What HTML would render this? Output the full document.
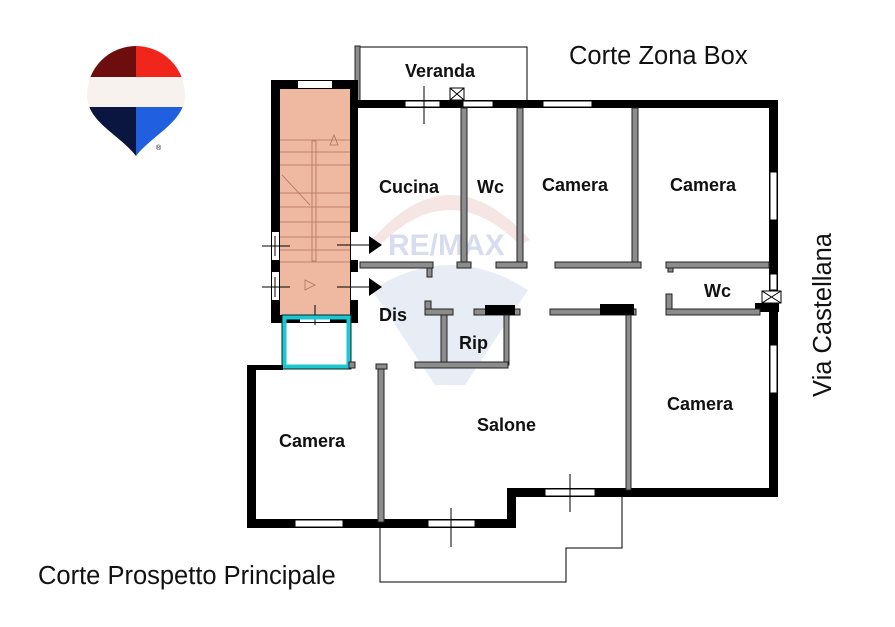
<!DOCTYPE html>
<html><head><meta charset="utf-8"><style>
html,body{margin:0;padding:0;background:#fff;}
svg{display:block;}
text{font-family:"Liberation Sans",Arial,sans-serif;}
.l{font-size:18px;font-weight:bold;fill:#111;}
.g{fill:#8c8c8c;stroke:#222;stroke-width:1;}
.b{fill:#000;}
.w{fill:#fff;stroke:#000;stroke-width:1;}
.t{stroke:#000;stroke-width:1;fill:none;}
</style></head><body>
<svg width="895" height="627" viewBox="0 0 895 627" xmlns="http://www.w3.org/2000/svg">
<rect width="895" height="627" fill="#fff"/>
<defs><clipPath id="bal"><path d="M87,95 A49,49 0 0 1 185,95 C185,122 152,135 136,156 C120,135 87,122 87,95 Z"/></clipPath></defs>
<g clip-path="url(#bal)">
<rect x="80" y="40" width="56" height="40" fill="#6e0d0d"/>
<rect x="136" y="40" width="56" height="40" fill="#f0261c"/>
<rect x="80" y="77" width="112" height="30" fill="#f8f2ee"/>
<rect x="80" y="107" width="56" height="55" fill="#0b1640"/>
<rect x="136" y="107" width="56" height="55" fill="#1f5fe0"/>
</g>
<text x="156" y="150" font-size="7" fill="#000">®</text>
<path d="M372,240 Q450,150 530,240 L520,245 Q450,175 380,245 Z" fill="#f4dede" opacity="0.8"/>
<path d="M372,290 Q450,240 528,290 L465,385 L435,385 Z" fill="#e2e7f2" opacity="0.8"/>
<text x="388" y="255" font-size="30" font-weight="bold" fill="#d3daee" opacity="0.9">RE/MAX</text>
<path d="M357,47 H527 V100" class="t"/>
<rect x="355" y="46" width="5" height="55" class="g"/>
<rect x="271" y="80" width="87" height="243" class="b"/>
<rect x="280" y="89" width="70" height="226" fill="#efb8a0"/>
<rect x="298" y="81" width="34" height="7" fill="#fff"/>
<rect x="300" y="315" width="30" height="7" fill="#fff"/>
<rect x="272" y="232" width="7" height="28" fill="#fff"/><rect x="272" y="272" width="7" height="28" fill="#fff"/>
<rect x="351" y="232" width="7" height="28" fill="#fff"/><rect x="351" y="272" width="7" height="28" fill="#fff"/>
<g stroke="#b07060" stroke-width="0.8" fill="none">
<line x1="280" y1="140" x2="350" y2="140"/><line x1="280" y1="152" x2="350" y2="152"/><line x1="280" y1="165" x2="350" y2="165"/>
<line x1="280" y1="193" x2="350" y2="193"/><line x1="280" y1="207" x2="350" y2="207"/><line x1="280" y1="222" x2="350" y2="222"/>
<line x1="280" y1="237" x2="350" y2="237"/><line x1="280" y1="250" x2="350" y2="250"/><line x1="280" y1="262" x2="350" y2="262"/>
<rect x="312" y="141" width="4" height="120"/><line x1="282" y1="175" x2="310" y2="205"/>
<path d="M330,145 L334,135 L338,145 Z"/><path d="M305,280 L315,285 L305,290 Z"/>
</g>
<g stroke="#000" stroke-width="1">
<line x1="262" y1="246" x2="290" y2="246"/><line x1="275" y1="236" x2="275" y2="256"/>
<line x1="262" y1="287" x2="290" y2="287"/><line x1="275" y1="277" x2="275" y2="297"/>
<line x1="337" y1="245" x2="370" y2="245"/><line x1="337" y1="287" x2="370" y2="287"/>
<line x1="315" y1="305" x2="315" y2="325"/>
</g>
<path d="M369,236 L382,245 L369,254 Z"/><path d="M369,278 L382,287 L369,296 Z"/>
<rect x="284" y="317" width="65" height="50" fill="none" stroke="#1cc7cf" stroke-width="5"/>
<rect x="282" y="315" width="69" height="54" fill="none" stroke="#000" stroke-width="0.8"/>
<rect x="358" y="100" width="420" height="8" class="b"/>
<rect x="405" y="101" width="35" height="6" class="w"/>
<rect x="463" y="101" width="30" height="6" class="w"/>
<rect x="543" y="101" width="49" height="6" class="w"/>
<rect x="450" y="88" width="14" height="12" class="w"/><path d="M450,88 L464,100 M464,88 L450,100" stroke="#000"/>
<line x1="424" y1="86" x2="424" y2="124" stroke="#000"/>
<rect x="769" y="100" width="9" height="397" class="b"/>
<rect x="770" y="172" width="7" height="48" class="w"/>
<rect x="770" y="274" width="7" height="16" class="w"/>
<rect x="762" y="291" width="19" height="12" class="w"/><path d="M762,291 L781,303 M781,291 L762,303" stroke="#000"/>
<rect x="755" y="303" width="24" height="9" class="b"/>
<rect x="770" y="345" width="7" height="48" class="w"/>
<rect x="507" y="488" width="271" height="9" class="b"/>
<rect x="545" y="489" width="50" height="7" class="w"/>
<line x1="570" y1="474" x2="570" y2="512" stroke="#000"/>
<rect x="507" y="488" width="9" height="40" class="b"/>
<rect x="247" y="519" width="269" height="9" class="b"/>
<rect x="295" y="520" width="48" height="7" class="w"/>
<rect x="428" y="520" width="47" height="7" class="w"/>
<line x1="451" y1="508" x2="451" y2="547" stroke="#000"/>
<rect x="247" y="365" width="9" height="163" class="b"/>
<rect x="247" y="365" width="36" height="5" class="b"/>
<path d="M380,522 V582 H566 V548 H622 V497" class="t"/>
<rect x="461" y="108" width="6" height="157" class="g"/>
<rect x="517" y="108" width="6" height="157" class="g"/>
<rect x="632" y="108" width="6" height="157" class="g"/>
<rect x="360" y="262" width="73" height="6" class="g"/>
<rect x="427" y="268" width="5" height="9" class="g"/>
<rect x="457" y="262" width="14" height="6" class="g"/>
<rect x="496" y="262" width="31" height="6" class="g"/>
<rect x="555" y="262" width="86" height="6" class="g"/>
<rect x="666" y="262" width="103" height="6" class="g"/>
<rect x="668" y="268" width="5" height="4" class="g"/>
<rect x="425" y="301" width="6" height="14" class="g"/>
<rect x="425" y="309" width="28" height="6" class="g"/>
<rect x="474" y="309" width="46" height="6" class="g"/>
<rect x="485" y="305" width="30" height="10" class="b"/>
<rect x="550" y="309" width="86" height="6" class="g"/>
<rect x="600" y="304" width="34" height="11" class="b"/>
<rect x="666" y="294" width="6" height="15" class="g"/>
<rect x="666" y="309" width="94" height="6" class="g"/>
<rect x="441" y="315" width="6" height="50" class="g"/>
<rect x="504" y="315" width="5" height="50" class="g"/>
<rect x="415" y="362" width="93" height="6" class="g"/>
<rect x="349" y="362" width="6" height="6" class="g"/>
<rect x="376" y="364" width="11" height="5" class="g"/>
<rect x="378" y="369" width="6" height="153" class="g"/>
<rect x="626" y="315" width="5" height="175" class="g"/>
<text x="405" y="77" class="l">Veranda</text>
<text x="379" y="193" class="l">Cucina</text>
<text x="477" y="193" class="l">Wc</text>
<text x="542" y="191" class="l">Camera</text>
<text x="670" y="191" class="l">Camera</text>
<text x="704" y="297" class="l">Wc</text>
<text x="379" y="321" class="l">Dis</text>
<text x="459" y="349" class="l">Rip</text>
<text x="667" y="410" class="l">Camera</text>
<text x="477" y="431" class="l">Salone</text>
<text x="279" y="447" class="l">Camera</text>
<text x="569" y="64" font-size="25.5" fill="#111">Corte Zona Box</text>
<text x="38" y="584" font-size="25.5" fill="#111">Corte Prospetto Principale</text>
<text transform="translate(831,315) rotate(-90)" text-anchor="middle" font-size="25.5" fill="#111">Via Castellana</text>
</svg>
</body></html>
